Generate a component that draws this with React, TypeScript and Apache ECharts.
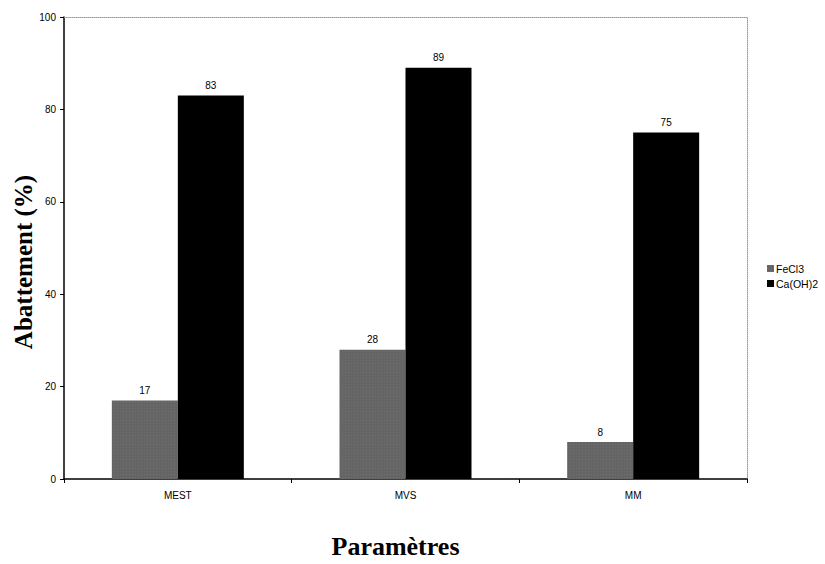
import React, { useEffect, useRef } from "react";
import * as echarts from "echarts";

const categories = ["MEST", "MVS", "MM"];
const fecl3 = [17, 28, 8];
const caoh2 = [83, 89, 75];
const yTicks = [0, 20, 40, 60, 80, 100];

export default function App() {
  const ref = useRef<HTMLDivElement>(null);
  useEffect(() => {
    const chart = echarts.init(ref.current!, null, { renderer: "svg" });
    const labelStyle = {
      show: true,
      position: "top",
      distance: 5,
      fontFamily: "Liberation Sans, Arial, sans-serif",
      fontSize: 10,
      color: "#000",
    };
    chart.setOption({
      animation: false,
      backgroundColor: "#fff",
      grid: { left: 64, top: 17, right: 78, bottom: 84 },
      legend: {
        orient: "vertical",
        left: 762,
        top: 258,
        itemWidth: 7,
        itemHeight: 7,
        itemGap: 4,
        icon: "rect",
        textStyle: {
          fontFamily: "Liberation Sans, Arial, sans-serif",
          fontSize: 10.5,
          color: "#000",
          padding: [0, 0, 0, -3],
        },
        data: ["FeCl3", "Ca(OH)2"],
      },
      xAxis: [
        {
          type: "category",
          data: categories,
          axisLine: { lineStyle: { color: "#000", width: 1.5 } },
          axisTick: { show: true, length: 4, lineStyle: { color: "#000" } },
          axisLabel: {
            fontFamily: "Liberation Sans, Arial, sans-serif",
            fontSize: 10,
            color: "#000",
            margin: 11,
          },
          name: "Paramètres",
          nameLocation: "middle",
          nameGap: 54,
          nameMoveOverlap: false,
          nameTextStyle: {
            fontFamily: "Liberation Serif, Times New Roman, serif",
            fontWeight: "bold",
            fontSize: 26,
            color: "#000",
            padding: [0, 20, 0, 0],
          },
        },
        {
          type: "category",
          position: "top",
          data: categories,
          axisLine: { onZero: false, lineStyle: { color: "#999", type: "dotted", width: 1 } },
          axisTick: { show: false },
          axisLabel: { show: false },
        },
      ],
      yAxis: [
        {
          type: "value",
          min: 0,
          max: 100,
          interval: 20,
          axisLine: { show: true, lineStyle: { color: "#000", width: 1.5 } },
          axisTick: { show: true, length: 4, lineStyle: { color: "#000" } },
          splitLine: { show: false },
          axisLabel: {
            fontFamily: "Liberation Sans, Arial, sans-serif",
            fontSize: 10,
            color: "#000",
            margin: 8,
            formatter: (v: number) => (yTicks.includes(v) ? String(v) : ""),
          },
          name: "Abattement (%)",
          nameLocation: "middle",
          nameGap: 28,
          nameMoveOverlap: false,
          nameTextStyle: {
            fontFamily: "Liberation Serif, Times New Roman, serif",
            fontWeight: "bold",
            fontSize: 25,
            color: "#000",
            padding: [0, 28, 0, 0],
          },
        },
        {
          type: "value",
          position: "right",
          min: 0,
          max: 100,
          interval: 20,
          axisLine: { show: true, onZero: false, lineStyle: { color: "#999", type: "dotted", width: 1 } },
          axisTick: { show: false },
          axisLabel: { show: false },
          splitLine: { show: false },
        },
      ],
      series: [
        {
          name: "FeCl3",
          type: "bar",
          data: fecl3,
          barWidth: 66,
          barGap: "0%",
          itemStyle: {
            color: "#656565",
            decal: {
              symbol: "rect",
              symbolSize: 0.6,
              color: "rgba(170,170,170,0.5)",
              dashArrayX: [1, 2],
              dashArrayY: [1, 2],
              rotation: 0,
            },
          },
          label: labelStyle,
        },
        {
          name: "Ca(OH)2",
          type: "bar",
          data: caoh2,
          barWidth: 66,
          barGap: "0%",
          itemStyle: { color: "#000" },
          label: labelStyle,
        },
      ],
    });
    return () => chart.dispose();
  }, []);
  return (
    <div
      ref={ref}
      style={{ position: "fixed", left: 0, top: 0, width: 825, height: 564 }}
    />
  );
}
